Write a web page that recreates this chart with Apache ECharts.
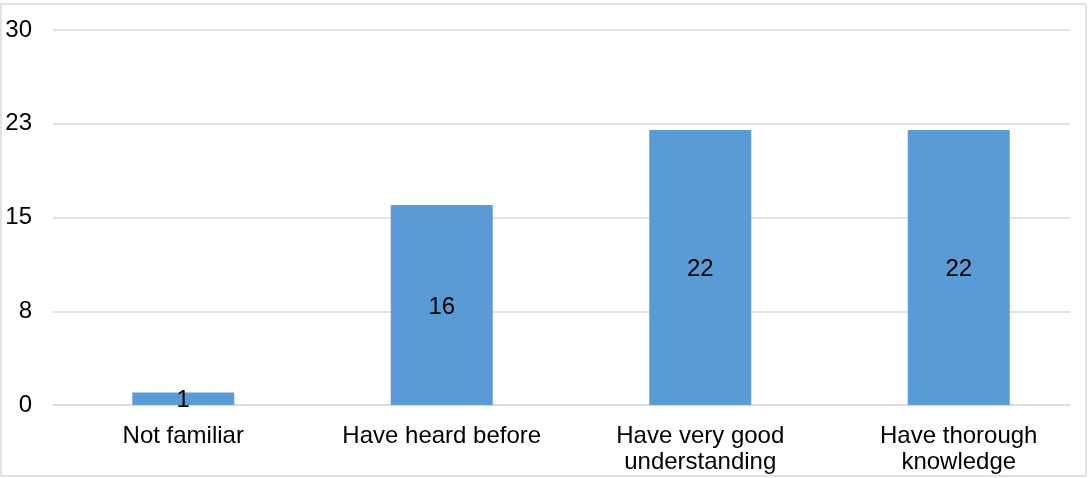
<!DOCTYPE html>
<html>
<head>
<meta charset="utf-8">
<script src="https://cdn.jsdelivr.net/npm/echarts@6/dist/echarts.min.js"></script>
<style>
  html, body { margin: 0; padding: 0; background: #fff; }
  #chart { width: 1088px; height: 478px; }
</style>
</head>
<body>
<div id="chart"></div>
<script>
// Familiarity levels and response counts
const categories = ['Not familiar', 'Have heard before', 'Have very good\nunderstanding', 'Have thorough\nknowledge'];
const counts = [1, 16, 22, 22];
// Value axis runs 0..30 in steps of 7.5, printed as rounded numbers
const yTickValues = [0, 7.5, 15, 22.5, 30];
const yTickLabels = ['0', '8', '15', '23', '30'];

const font = 'Liberation Sans, Arial, sans-serif';
const chart = echarts.init(document.getElementById('chart'), null, { renderer: 'canvas' });

// Grid 0 carries the value-axis labels and gridlines; grid 1 lays out the bars
// over a slightly wider band so the category slots reach the right edge.
chart.setOption({
  animation: false,
  backgroundColor: '#ffffff',
  graphic: [{
    type: 'rect',
    silent: true,
    z: 100,
    shape: { x: 1, y: 4, width: 1085, height: 472 },
    style: { fill: 'none', stroke: '#d9d9d9', lineWidth: 1.5 }
  }],
  grid: [
    { left: 53, right: 18, top: 30, bottom: 73, containLabel: false },
    { left: 54, right: 0, top: 30, bottom: 73, containLabel: false }
  ],
  xAxis: [{
    type: 'category',
    gridIndex: 0,
    data: categories,
    axisLine: { show: true, lineStyle: { color: '#d9d9d9', width: 1.5 } },
    axisTick: { show: false },
    axisLabel: { show: false }
  }, {
    type: 'category',
    gridIndex: 1,
    data: categories,
    axisLine: { show: false },
    axisTick: { show: false },
    axisLabel: {
      color: '#000', fontFamily: font, fontSize: 24, lineHeight: 26,
      margin: 18, interval: 0
    }
  }],
  yAxis: [{
    type: 'value',
    gridIndex: 0,
    min: 0,
    max: 30,
    interval: 7.5,
    axisLine: { show: false },
    axisTick: { show: false },
    splitLine: { lineStyle: { color: '#d9d9d9', width: 1.5 } },
    axisLabel: {
      color: '#000', fontFamily: font, fontSize: 24, margin: 21,
      formatter: function (v) {
        const i = yTickValues.findIndex(t => Math.abs(t - v) < 1e-6);
        return i >= 0 ? yTickLabels[i] : '';
      }
    }
  }, {
    type: 'value',
    gridIndex: 1,
    min: 0,
    max: 30,
    interval: 7.5,
    show: false
  }],
  series: [{
    type: 'bar',
    xAxisIndex: 1,
    yAxisIndex: 1,
    data: counts,
    barWidth: 102,
    itemStyle: { color: '#5b9bd5' },
    label: {
      show: true,
      position: 'inside',
      offset: [0, 2],
      color: '#000',
      fontFamily: font,
      fontSize: 24
    }
  }]
});
</script>
</body>
</html>
